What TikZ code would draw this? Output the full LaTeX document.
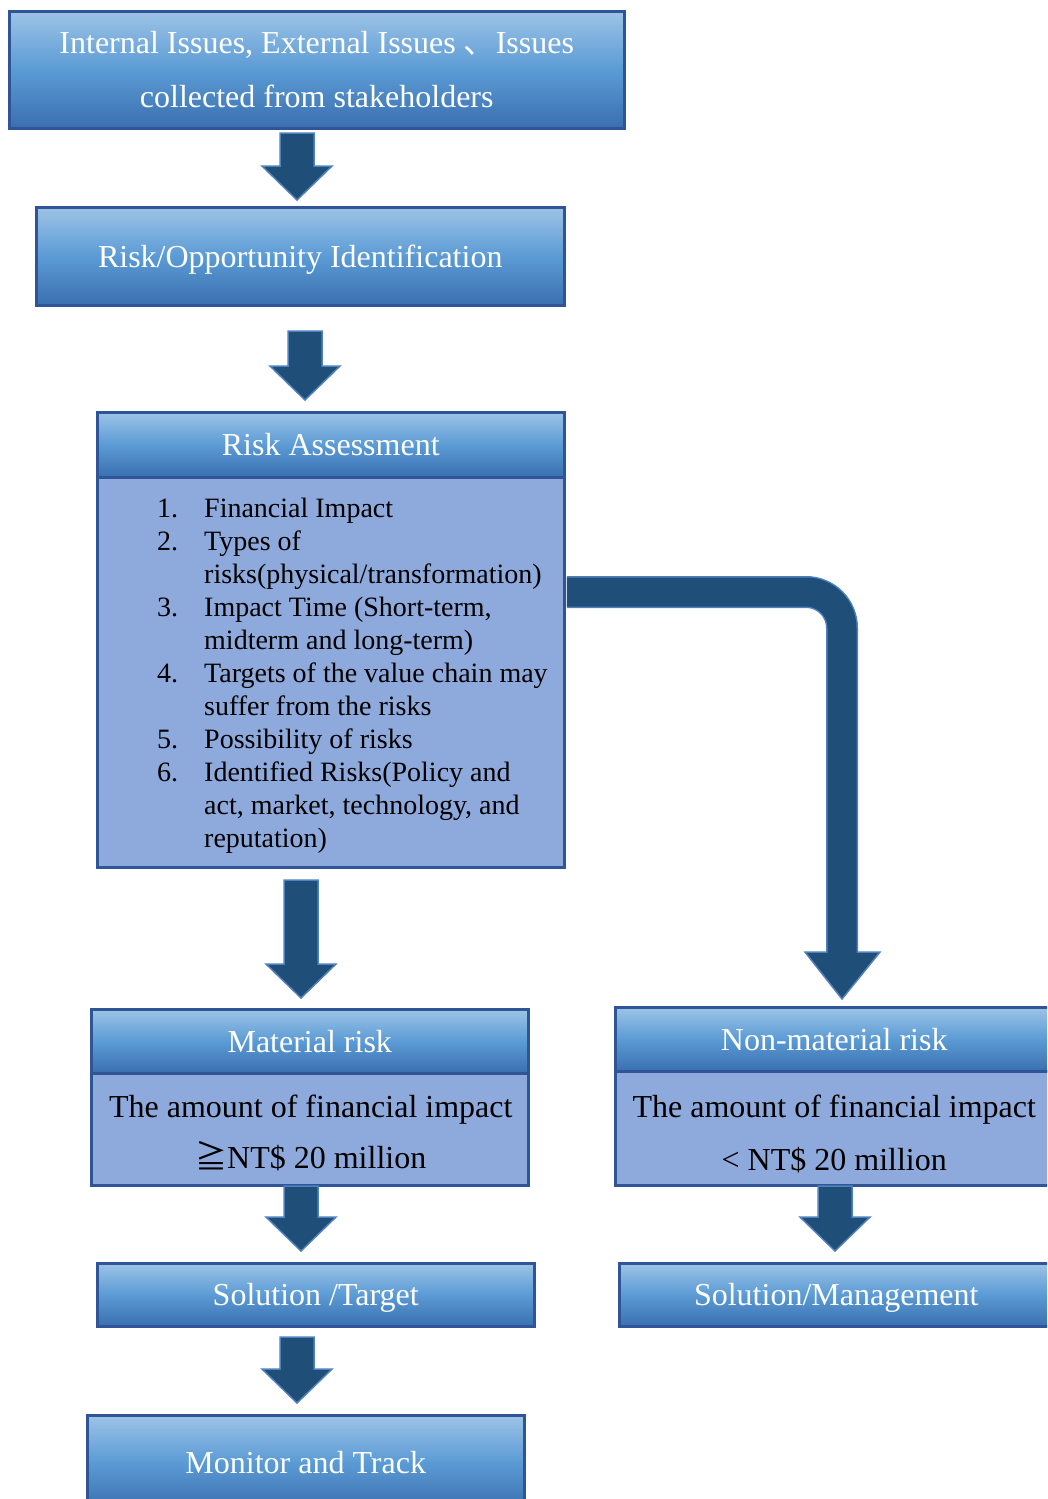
\documentclass[tikz,border=0pt]{standalone}
\usepackage{fontspec}
\setmainfont{Liberation Serif}
\newfontfamily\cjk{Noto Sans CJK SC}
\usetikzlibrary{calc}
\definecolor{bordc}{HTML}{2F5597}
\definecolor{htop}{HTML}{9DC3E6}
\definecolor{hmid}{HTML}{5B9BD5}
\definecolor{hbot}{HTML}{3A6FAF}
\definecolor{bodyc}{HTML}{8EA9DB}
\definecolor{arrfill}{HTML}{1F4E79}
\definecolor{arrbord}{HTML}{4F81BD}
\newcommand\blockarr[2]{%
  \draw[arrowst] let \p1=(#1), \p2=(#2) in
    (\x1-17pt,\y1) -- (\x1+17pt,\y1) -- (\x1+17pt,\y2+34pt) -- (\x1+35pt,\y2+34pt)
    -- (\x1,\y2) -- (\x1-35pt,\y2+34pt) -- (\x1-17pt,\y2+34pt) -- cycle;}
\begin{document}
\begin{tikzpicture}[x=1pt,y=-1pt,
  boxbase/.style={draw=bordc, line width=2.5pt, inner sep=0pt, anchor=north west, align=center},
  hdr/.style={boxbase, top color=htop, bottom color=hbot, middle color=hmid, text=white,
    font=\fontsize{32}{54}\selectfont},
  bodybox/.style={boxbase, fill=bodyc},
  bodytext/.style={inner sep=0pt, align=center, text=black},
  arrowst/.style={draw=arrbord, line width=1.5pt, fill=arrfill, line join=miter}]
\useasboundingbox (0,0) rectangle (1047,1499);
\clip (0,0) rectangle (1047,1499);

\node[hdr, minimum width=615pt, minimum height=117pt] (top) at (8,10)
  {Internal Issues, External Issues {\cjk 、}Issues\\collected from stakeholders};
\node[hdr, minimum width=528pt, minimum height=98pt, text depth=0pt] (rid) at (35,206)
  {Risk/Opportunity Identification};
\node[hdr, minimum width=467pt, minimum height=65pt] (rah) at (96,411)
  {Risk Assessment};
\node[bodybox, minimum width=467pt, minimum height=390pt] (rab) at (96,476) {};
\node[anchor=north west, inner sep=0pt, align=left, font=\fontsize{28}{33}\selectfont] (list) at (157,494)
  {\begin{tabular}{@{}p{47pt}@{}l@{}}
  1. & Financial Impact\\
  2. & Types of\\
     & risks(physical/transformation)\\
  3. & Impact Time (Short-term,\\
     & midterm and long-term)\\
  4. & Targets of the value chain may\\
     & suffer from the risks\\
  5. & Possibility of risks\\
  6. & Identified Risks(Policy and\\
     & act, market, technology, and\\
     & reputation)
  \end{tabular}};

\node[hdr, minimum width=437pt, minimum height=64pt] (mh) at (90,1008) {Material risk};
\node[bodybox, minimum width=437pt, minimum height=112pt] (mb) at (90,1072) {};
\node[bodytext, font=\fontsize{32}{51}\selectfont] (mbt) at ($(mb.center)+(1,4)$)
  {The amount of financial impact\\{\cjk ≧}NT\$ 20 million};
\node[hdr, minimum width=438pt, minimum height=64pt] (nh) at (614,1006) {Non-material risk};
\node[bodybox, minimum width=438pt, minimum height=114pt] (nb) at (614,1070) {};
\node[bodytext, font=\fontsize{32}{53}\selectfont] (nbt) at ($(nb.center)+(0,6)$)
  {The amount of financial impact\\< NT\$ 20 million};
\node[hdr, minimum width=437pt, minimum height=63pt, text depth=0pt] (st) at (96,1262) {Solution /Target};
\node[hdr, minimum width=434pt, minimum height=63pt, text depth=0pt] (sm) at (618,1262) {Solution/Management};
\node[hdr, minimum width=437pt, minimum height=94pt] (mt) at (86,1414) {Monitor and Track};

% straight block arrows
\coordinate (a1s) at (297,133);  \coordinate (a1e) at (297,200);
\coordinate (a2s) at (305,331);  \coordinate (a2e) at (305,400);
\coordinate (a3s) at (301,880);  \coordinate (a3e) at (301,998);
\coordinate (a4s) at (301,1186); \coordinate (a4e) at (301,1251);
\coordinate (a5s) at (835,1186); \coordinate (a5e) at (835,1251);
\coordinate (a6s) at (297,1337); \coordinate (a6e) at (297,1403);
\blockarr{a1s}{a1e}
\blockarr{a2s}{a2e}
\blockarr{a3s}{a3e}
\blockarr{a4s}{a4e}
\blockarr{a5s}{a5e}
\blockarr{a6s}{a6e}

% bent arrow to non-material risk
\coordinate (bs) at ($(rab.north east)+(1.25,116)$);
\coordinate (bc) at (842,592);
\coordinate (be) at (842,952);
\draw[line width=32pt, draw=arrbord, rounded corners=36pt] (bs) -- (bc) -- (be);
\draw[arrowst] (805,952) -- (880,952) -- (842,999) -- cycle;
\draw[line width=29pt, draw=arrfill, rounded corners=36pt] (bs) -- (bc) -- ($(be)+(0,2)$);
\end{tikzpicture}
\end{document}
